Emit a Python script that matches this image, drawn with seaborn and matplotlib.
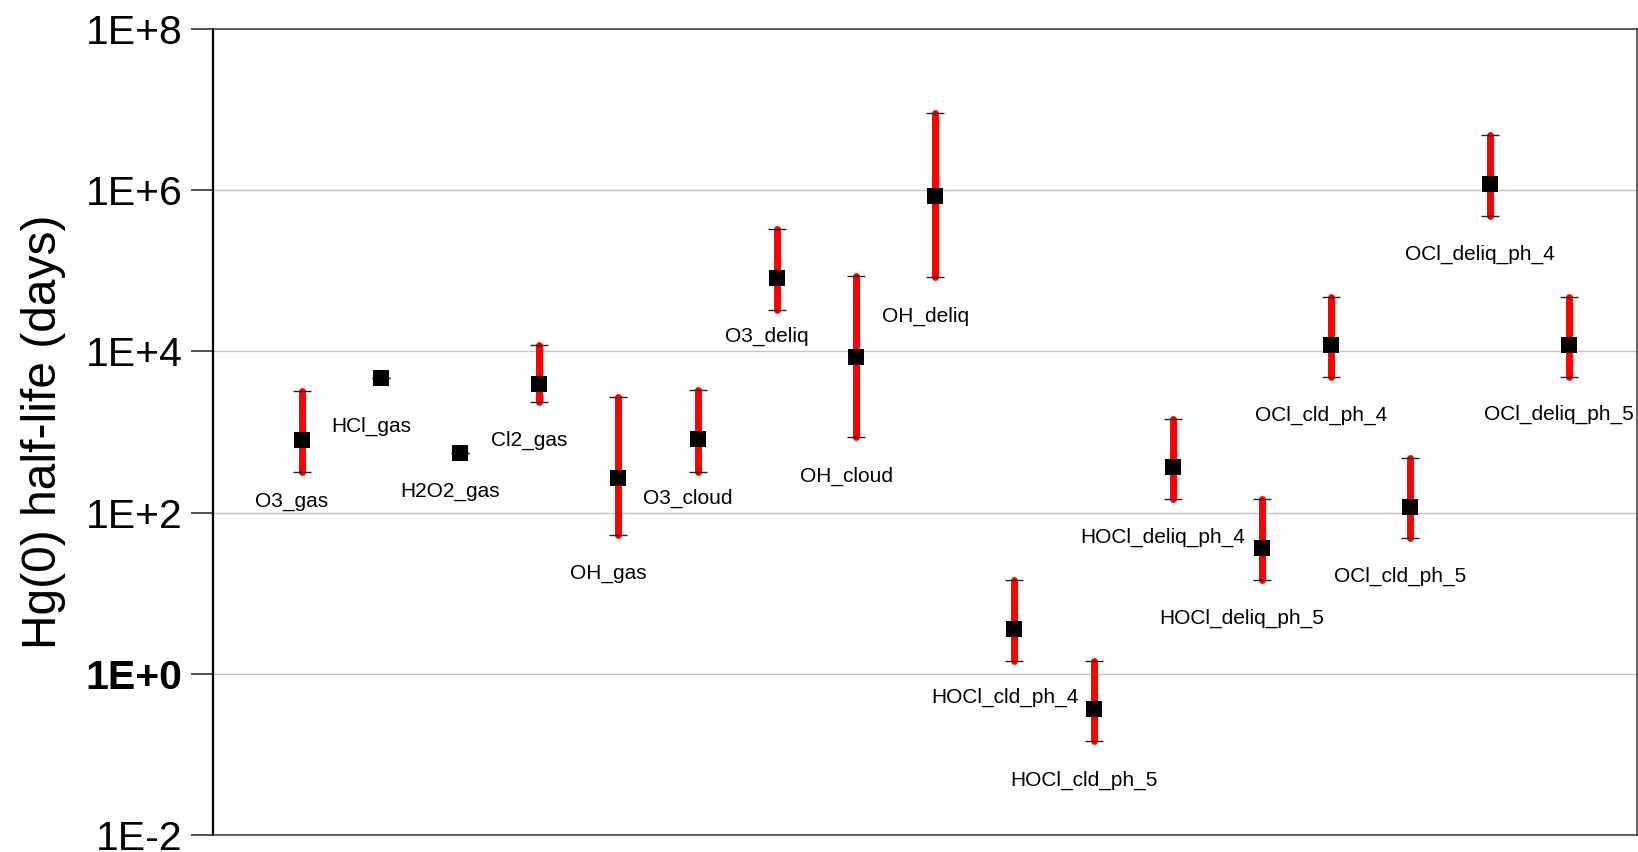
import pandas as pd
import matplotlib
matplotlib.use('Agg')
import matplotlib.pyplot as plt
import seaborn as sns

# reaction pathways and Hg(0) half-life estimates (days)
names = ['O3_gas', 'HCl_gas', 'H2O2_gas', 'Cl2_gas', 'OH_gas', 'O3_cloud',
         'O3_deliq', 'OH_cloud', 'OH_deliq', 'HOCl_cld_ph_4', 'HOCl_cld_ph_5',
         'HOCl_deliq_ph_4', 'HOCl_deliq_ph_5', 'OCl_cld_ph_4', 'OCl_cld_ph_5',
         'OCl_deliq_ph_4', 'OCl_deliq_ph_5']
xpos = [1, 2, 3, 4, 5, 6, 7, 8, 9, 10, 11, 12, 13.12, 14, 15, 16, 17]
half_life = [800, 4700, 550, 3950, 268, 820, 81000, 8500, 850000, 3.6, 0.37,
             368, 36, 12000, 117, 1.2e6, 12000]
low = [316, 4700, 550, 2350, 53, 316, 32600, 870, 84000, 1.45, 0.147,
       147, 14.6, 4800, 48, 480000, 4800]
high = [3250, 4700, 550, 12000, 2720, 3300, 330000, 86000, 9.1e6, 14.6, 1.45,
        1450, 147, 47000, 475, 4.8e6, 47000]

# label drop below the lower end of each bar, in pixels (layout only)
label_drop = [29, 49, 39, 38, 39, 26, 26, 40, 39, 37, 39, 38, 38, 38, 38, 38, 37]

df = pd.DataFrame({'name': names, 'x': xpos, 'y': half_life,
                   'low': low, 'high': high})

sns.set_style('white')
plt.rcParams['font.family'] = ['Liberation Sans', 'DejaVu Sans']
plt.rcParams['text.color'] = 'black'
plt.rcParams['ytick.labelcolor'] = 'black'
plt.rcParams['axes.labelcolor'] = 'black'

fig = plt.figure(figsize=(16.38, 8.52), dpi=100)
ax = fig.add_axes([213 / 1638, 1 - 835 / 852, 1424 / 1638, 806 / 852])

ax.set_yscale('log')
ax.set_ylim(1e-2, 1e8)
ax.set_xlim(-0.12, 17.86)

ax.vlines(df['x'], df['low'], df['high'], color='red', lw=5,
          capstyle='round', zorder=3)
ax.plot(df['x'], df['low'], ls='none', marker='_', ms=13, mew=1,
        color='#222222', zorder=4)
ax.plot(df['x'], df['high'], ls='none', marker='_', ms=13, mew=1,
        color='#222222', zorder=4)
sns.scatterplot(data=df, x='x', y='y', marker='s', s=132, color='black',
                edgecolor='black', linewidth=0, zorder=5, ax=ax, legend=False)

for i, row in df.iterrows():
    ax.annotate(row['name'], xy=(i + 1, row['low']), xytext=(-10, -label_drop[i]),
                textcoords='offset pixels', ha='center', va='center',
                fontsize=15, color='black')

yticks = [1e-2, 1e0, 1e2, 1e4, 1e6, 1e8]
ytick_labels = ['1E-2', '1E+0', '1E+2', '1E+4', '1E+6', '1E+8']
ax.set_yticks(yticks)
ax.set_yticklabels(ytick_labels, fontsize=29.5, color='black')
ax.yaxis.set_minor_locator(matplotlib.ticker.NullLocator())
ax.get_yticklabels()[1].set_fontweight('bold')
ax.tick_params(axis='y', direction='out', length=16, width=1.2,
               color='#333333', pad=6, left=True, labelcolor='black')
ax.set_xticks([])
ax.set_xlabel('')
ax.set_ylabel('Hg(0) half-life (days)', fontsize=34.5, labelpad=14, color='black')

ax.grid(axis='y', which='major', color='#c4c4c4', lw=1)
ax.set_axisbelow(True)
for side in ['top', 'bottom', 'right']:
    ax.spines[side].set_color('#444444')
    ax.spines[side].set_linewidth(1.2)
ax.spines['left'].set_color('black')
ax.spines['left'].set_linewidth(1.6)

fig.savefig('out.png', dpi=100)
